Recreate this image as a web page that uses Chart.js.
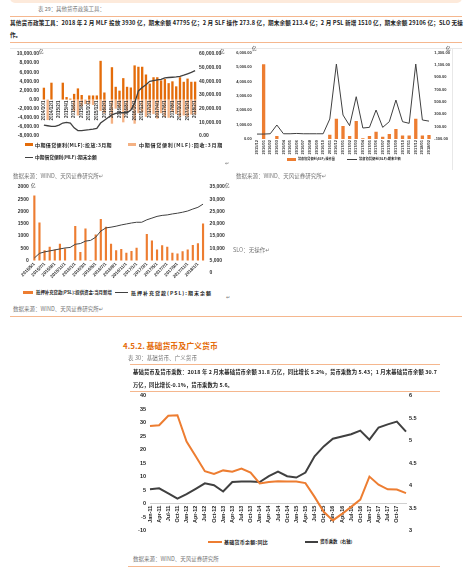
<!DOCTYPE html>
<html>
<head>
<meta charset="utf-8">
<script src="https://cdn.jsdelivr.net/npm/chart.js@4.4.1/dist/chart.umd.min.js"></script>
<style>
html, body { margin: 0; padding: 0; }
body { width: 474px; height: 571px; position: relative; overflow: hidden; background: #fff;
       font-family: "Noto Sans CJK SC", "DejaVu Sans", sans-serif; color: #222; }
.t { position: absolute; white-space: nowrap; line-height: 1; }
.ln { position: absolute; height: 1px; background: #f5b78e; }
.sw { position: absolute; }
.g { color: #777; }
.b { font-weight: bold; }
canvas { position: absolute; }
</style>
</head>
<body>

<div class="sw" style="left:10px;top:-5px;width:452px;height:8px;background:#fdeadb;border-radius:0 0 5px 5px"></div>
<div class="t g" data-w="67" style="left:38px;top:7px;font-size:5.5px">表 29：其他货币政策工具：</div>
<div class="ln" style="left:10px;top:16px;width:452px"></div>
<div class="t b" data-w="453" style="left:10px;top:21px;font-size:5.6px">其他货币政策工具：2018 年 2 月 MLF 投放 3930 亿，期末余额 47795 亿；2 月 SLF 操作 273.8 亿，期末余额 213.4 亿；2 月 PSL 新增 1510 亿，期末余额 29106 亿；SLO 无操</div>
<div class="t b" style="left:10px;top:33px;font-size:5.6px">作。</div>
<div class="ln" style="left:10px;top:42px;width:452px"></div>
<div class="sw" style="left:10px;top:48px;width:452px;height:1px;background:#e8e8e8"></div>
<div class="sw" style="left:452px;top:48px;width:1px;height:122px;background:#e8e8e8"></div>

<canvas id="mlf" width="235" height="97" style="left:0;top:45px"></canvas>
<canvas id="slf" width="228" height="116" style="left:230px;top:46px"></canvas>
<canvas id="psl" width="235" height="100" style="left:0;top:180px"></canvas>
<canvas id="base" width="310" height="150" style="left:130px;top:388px"></canvas>

<!-- MLF -->
<div class="t" style="left:39px;top:49px;font-size:4.5px">亿</div>
<div class="t" style="left:220px;top:49px;font-size:4.5px">亿</div>
<div class="sw" style="left:25px;top:142.5px;width:8px;height:3px;background:#e46c0a"></div>
<div class="t b" data-w="77" style="left:35px;top:141.5px;font-size:5px">中期借贷便利(MLF):投放:3月期</div>
<div class="sw" style="left:128px;top:142.5px;width:8px;height:3px;background:#f4b183"></div>
<div class="t b" data-w="84" style="left:139px;top:141.5px;font-size:5px">中期借贷便利(MLF):回收:3月期</div>
<div class="sw" style="left:25px;top:156.5px;width:8px;height:1.5px;background:#404040"></div>
<div class="t b" data-w="62" style="left:35px;top:155px;font-size:5px">中期借贷便利(MLF):期末余额</div>
<div class="t g" style="left:225px;top:160px;font-size:5px">↵</div>
<div class="t g" style="left:13px;top:173.5px;font-size:5.5px">数据来源：WIND、天风证券研究所↵</div>

<!-- SLF -->
<div class="t" style="left:252px;top:46px;font-size:4.5px">亿</div>
<div class="t" style="left:446px;top:46px;font-size:4.5px">亿</div>
<div class="sw" style="left:287px;top:157.5px;width:9px;height:3px;background:#ed7d31"></div>
<div class="t b" data-w="37" style="left:298px;top:157px;font-size:4px">常备借贷便利(SLF):操作量</div>
<div class="sw" style="left:347px;top:158.5px;width:10px;height:1px;background:#404040"></div>
<div class="t b" data-w="42" style="left:359px;top:157px;font-size:4px">常备借贷便利(SLF):期末余额</div>
<div class="t g" style="left:236px;top:173.5px;font-size:5.5px">数据来源：WIND、天风证券研究所↵</div>

<!-- PSL -->
<div class="t" style="left:31px;top:182.5px;font-size:4.5px">亿</div>
<div class="t" style="left:225px;top:182.5px;font-size:4.5px">亿</div>
<div class="sw" style="left:23px;top:291px;width:10px;height:3px;background:#ed7d31"></div>
<div class="t b" data-w="76" style="left:36px;top:290px;font-size:5px">抵押补充贷款(PSL):提供资金:当月新增</div>
<div class="sw" style="left:115px;top:292px;width:13px;height:1.2px;background:#404040"></div>
<div class="t b" data-w="81" style="left:131px;top:290px;font-size:5px">抵押补充贷款(PSL):期末余额</div>
<div class="t g" style="left:226px;top:294px;font-size:5px">↵</div>
<div class="t g" style="left:13px;top:306.5px;font-size:5.5px">数据来源：WIND、天风证券研究所↵</div>
<div class="ln" style="left:10px;top:315.5px;width:452px"></div>

<div class="t g" style="left:233px;top:247.5px;font-size:5.5px">SLO：无操作↵</div>

<!-- base money -->
<div class="t b" data-w="95" style="left:123px;top:341.5px;font-size:8px;color:#e46c0a">4.5.2. 基础货币及广义货币</div>
<div class="t g" data-w="69" style="left:128px;top:356px;font-size:5.5px">表 30：基础货币、广义货币</div>
<div class="ln" style="left:130px;top:364px;width:310px"></div>
<div class="t b" data-w="304" style="left:133px;top:370px;font-size:5.3px">基础货币及货币乘数：2018 年 2 月末基础货币余额 31.8 万亿，同比增长 5.2%，货币乘数为 5.43；1 月末基础货币余额 30.7</div>
<div class="t b" data-w="100" style="left:133px;top:382.5px;font-size:5.3px">万亿，同比增长-0.1%，货币乘数为 5.6。</div>
<div class="ln" style="left:130px;top:391px;width:310px"></div>
<div class="sw" style="left:208px;top:540.5px;width:14px;height:2px;background:#ed7d31"></div>
<div class="t b" data-w="44" style="left:224px;top:539px;font-size:5px">基础货币余额:同比</div>
<div class="sw" style="left:305px;top:540.5px;width:13px;height:2px;background:#404040"></div>
<div class="t b" data-w="35" style="left:320px;top:539px;font-size:5px">货币乘数（右轴）</div>
<div class="t g" style="left:133px;top:556.5px;font-size:5.5px">数据来源：WIND、天风证券研究所</div>
<div class="ln" style="left:128px;top:566px;width:312px"></div>

<script>
// MLF
var mlfMonths = ['2014/10/1','2014/11/1','2014/12/1','2015/1/1','2015/2/1','2015/3/1','2015/4/1','2015/5/1','2015/6/1','2015/7/1',
    '2015/8/1','2015/9/1','2015/10/1','2015/11/1','2015/12/1','2016/1/1','2016/2/1','2016/3/1','2016/4/1','2016/5/1',
    '2016/6/1','2016/7/1','2016/8/1','2016/9/1','2016/10/1','2016/11/1','2016/12/1','2017/1/1','2017/2/1','2017/3/1',
    '2017/4/1','2017/5/1','2017/6/1','2017/7/1','2017/8/1','2017/9/1','2017/10/1','2017/11/1','2017/12/1','2018/1/1','2018/2/1'];
var mlfInject = [2600,0,3700,0,0,3700,550,200,1250,2450,1000,0,900,900,900,8500,1550,0,7100,2800,
    1950,4700,2800,2650,7500,7200,7200,5500,3500,4900,4900,4200,4500,3600,4000,2900,4900,3900,4600,3900,3930];
var mlfReturn = [0,-4500,0,0,0,0,0,0,-2500,-3500,-1500,-1000,-1000,-1200,0,-2500,-3000,0,-5300,-2000,
    -1800,-5000,-2500,-2200,-5300,-3000,-2800,-3800,-3000,-3200,-4200,-3000,-3800,-4000,-2800,-3200,-3800,-3500,-3800,-3300,-3300];
var mlfBalance = [8000,7500,7000,7000,8000,9500,10000,9500,6000,4000,4000,4300,4600,5000,5500,9500,11500,13500,15500,16500,
    17000,17000,17000,19000,24000,33000,35500,37500,40000,40500,41000,41500,42500,42800,43000,43200,43700,44500,45500,46500,47800];

// SLF
var slfMonths = ['2015/12','2016/01','2016/02','2016/03','2016/04','2016/05','2016/06','2016/07','2016/08','2016/09',
    '2016/10','2016/11','2016/12','2017/01','2017/02','2017/03','2017/04','2017/05','2017/06','2017/07',
    '2017/08','2017/09','2017/10','2017/11','2017/12','2018/01','2018/02'];
var slfOps = [0,5200,0,200,0,0,0,0,0,0,0,300,1400,900,200,1250,50,200,500,150,350,700,250,250,1400,250,274];
var slfBalance = [-20,-20,-15,127,-15,-15,-10,-15,-15,-15,-15,224,1116,289,116,586,78,89,370,89,181,532,181,154,1116,208,190];

// PSL
var pslMonths = ['2015/5/1','2015/6/1','2015/7/1','2015/8/1','2015/9/1','2015/10/1','2015/11/1','2015/12/1','2016/1/1','2016/2/1',
    '2016/3/1','2016/4/1','2016/5/1','2016/6/1','2016/7/1','2016/8/1','2016/9/1','2016/10/1','2016/11/1','2016/12/1',
    '2017/1/1','2017/2/1','2017/3/1','2017/4/1','2017/5/1','2017/6/1','2017/7/1','2017/8/1','2017/9/1','2017/10/1',
    '2017/11/1','2017/12/1','2018/1/1','2018/2/1'];
var pslNew = [2650,1550,420,560,450,680,490,0,1410,350,1310,20,1060,1690,1380,680,420,465,310,390,
    520,0,1080,810,450,620,560,310,280,380,450,630,700,1510];
var pslBalance = [6000,7900,8500,8900,9300,9700,10100,10300,11600,11900,12900,13200,14500,17000,18300,18600,19000,19500,19900,20300,
    20600,20600,21600,22300,23000,23400,23600,24000,24300,24700,25200,26000,26700,28000];

// base money
var baseQuarters = ['Jan-11','Apr-11','Jul-11','Oct-11','Jan-12','Apr-12','Jul-12','Oct-12','Jan-13','Apr-13',
    'Jul-13','Oct-13','Jan-14','Apr-14','Jul-14','Oct-14','Jan-15','Apr-15','Jul-15','Oct-15',
    'Jan-16','Apr-16','Jul-16','Oct-16','Jan-17','Apr-17','Jul-17','Oct-17','Jan-18'];
var baseYoY = [28.7,29.0,32.5,32.7,23.0,17.5,12.0,11.0,12.3,11.8,13.0,11.5,7.5,8.0,8.3,8.2,8.2,7.6,2.5,-3.0,
    -6.2,-3.8,-1.2,1.5,10.0,7.0,5.3,5.2,3.9];
var multiplier = [3.92,3.94,3.83,3.71,3.81,3.93,4.05,4.01,3.87,4.08,4.09,4.09,4.08,4.21,4.31,4.21,4.18,4.29,4.65,4.87,
    5.04,5.09,5.14,5.22,5.02,5.29,5.36,5.42,5.2];

// shrink the font when the text is too wide, spread it when too narrow
document.querySelectorAll('[data-w]').forEach(function (el) {
    var w = +el.dataset.w;
    var cur = el.getBoundingClientRect().width;
    if (cur > w) {
        el.style.fontSize = (parseFloat(el.style.fontSize) * w / cur) + 'px';
    } else {
        el.style.letterSpacing = ((w - cur) / el.textContent.length) + 'px';
    }
});

var tickFont = { family: 'Liberation Sans', size: 5, weight: 'bold' };
var noGrid = { display: false, drawTicks: false };
var noBorder = { display: false };
function fmt2(v) { return Number(v).toLocaleString('en-US', { minimumFractionDigits: 2, maximumFractionDigits: 2 }); }
function width(w) { return function (s) { s.width = w; }; }
var common = { responsive: false, animation: false, events: [],
    plugins: { legend: { display: false }, tooltip: { enabled: false } } };

new Chart(document.getElementById('mlf'), {
    type: 'bar',
    data: {
        labels: mlfMonths,
        datasets: [
            { data: mlfInject, backgroundColor: '#e46c0a', barPercentage: 0.62, categoryPercentage: 1, order: 1 },
            { data: mlfReturn, backgroundColor: '#f4b183', barPercentage: 0.62, categoryPercentage: 1, order: 1 },
            { type: 'line', data: mlfBalance, yAxisID: 'y1', borderColor: '#404040', borderWidth: 1.3, pointRadius: 0, order: 0 }
        ]
    },
    options: Object.assign({}, common, {
        layout: { padding: { top: 9, bottom: 2.7, left: 0, right: 0 } },
        scales: {
            x: { stacked: true, position: { y: 0 }, grid: noGrid, border: noBorder,
                 ticks: { z: 1, autoSkip: false, minRotation: 90, maxRotation: 90, padding: 1, color: '#333',
                          font: { family: 'Liberation Sans', size: 4.5, weight: 'bold' },
                          callback: function (v, i) { return i % 2 === 0 ? mlfMonths[i] : ''; } } },
            y: { stacked: true, min: -8000, max: 10000, grid: noGrid, border: noBorder, afterFit: width(42),
                 ticks: { stepSize: 2000, padding: 3, color: '#333', font: tickFont, callback: fmt2 } },
            y1: { position: 'right', min: 0, max: 60000, grid: noGrid, border: noBorder, afterFit: width(38),
                  ticks: { stepSize: 10000, padding: 2, color: '#333', font: tickFont, callback: fmt2 } }
        }
    })
});

new Chart(document.getElementById('slf'), {
    type: 'bar',
    data: {
        labels: slfMonths,
        datasets: [
            { data: slfOps, backgroundColor: '#ed7d31', barPercentage: 0.5, categoryPercentage: 1, order: 1 },
            { type: 'line', data: slfBalance, yAxisID: 'y1', borderColor: '#404040', borderWidth: 1, pointRadius: 0, order: 0 }
        ]
    },
    options: Object.assign({}, common, {
        layout: { padding: { top: 6.7, bottom: 23, left: 0, right: 0 } },
        scales: {
            x: { position: { y: 0 }, grid: noGrid, border: noBorder,
                 ticks: { autoSkip: false, minRotation: 90, maxRotation: 90, padding: 1, color: '#333',
                          font: { family: 'Liberation Sans', size: 4, weight: 'bold' } } },
            y: { min: 0, max: 6000, grid: noGrid, border: noBorder, afterFit: width(23.7),
                 ticks: { stepSize: 1000, padding: 2, color: '#333', font: { family: 'Liberation Sans', size: 4, weight: 'bold' }, callback: fmt2 } },
            y1: { position: 'right', min: -100, max: 1300, grid: noGrid, border: noBorder, afterFit: width(25.7),
                  ticks: { stepSize: 200, padding: 2, color: '#333', font: { family: 'Liberation Sans', size: 4, weight: 'bold' }, callback: fmt2 } }
        }
    })
});

new Chart(document.getElementById('psl'), {
    type: 'bar',
    data: {
        labels: pslMonths,
        datasets: [
            { data: pslNew, backgroundColor: '#ed7d31', barPercentage: 0.42, categoryPercentage: 1, order: 1 },
            { type: 'line', data: pslBalance, yAxisID: 'y1', borderColor: '#404040', borderWidth: 1, pointRadius: 0, order: 0 }
        ]
    },
    options: Object.assign({}, common, {
        layout: { padding: { top: 7, bottom: 7.3, left: 0, right: 0 } },
        scales: {
            x: { position: { y: 0 }, grid: noGrid, border: noBorder,
                 ticks: { z: 1, autoSkip: false, minRotation: 45, maxRotation: 45, padding: 1, color: '#333',
                          font: { family: 'Liberation Sans', size: 4.5, weight: 'bold' },
                          callback: function (v, i) { return i % 2 === 0 ? pslMonths[i] : ''; } } },
            y: { min: -500, max: 3000, grid: noGrid, border: noBorder, afterFit: width(31.8),
                 ticks: { stepSize: 500, padding: 3, color: '#333', font: tickFont,
                          callback: function (v) { return v < 0 ? '' : v; } } },
            y1: { position: 'right', min: 0, max: 35000, grid: noGrid, border: noBorder, afterFit: width(29.4),
                  ticks: { stepSize: 5000, padding: 4, color: '#333', font: tickFont } }
        }
    })
});

new Chart(document.getElementById('base'), {
    type: 'line',
    data: {
        labels: baseQuarters,
        datasets: [
            { data: baseYoY, borderColor: '#ed7d31', borderWidth: 2, pointRadius: 0 },
            { data: multiplier, yAxisID: 'y1', borderColor: '#404040', borderWidth: 2, pointRadius: 0 }
        ]
    },
    options: Object.assign({}, common, {
        layout: { padding: { top: 7.5, bottom: 6.3, left: 0, right: 0 } },
        scales: {
            x: { position: { y: 0 }, grid: noGrid, border: { display: true, color: '#d0d0d0', width: 1 },
                 ticks: { autoSkip: false, minRotation: 90, maxRotation: 90, padding: 2, color: '#222',
                          font: { family: 'Liberation Sans', size: 5.5, weight: 'bold' },
                          callback: function (v, i) { return i < baseQuarters.length - 1 ? baseQuarters[i] : ''; } } },
            y: { min: -10, max: 40, grid: noGrid, border: noBorder, afterFit: width(20),
                 ticks: { stepSize: 5, padding: 4, color: '#222', font: { family: 'Liberation Sans', size: 5.5, weight: 'bold' } } },
            y1: { position: 'right', min: 3, max: 6, grid: noGrid, border: noBorder, afterFit: width(34),
                  ticks: { stepSize: 0.5, padding: 3, color: '#222', font: { family: 'Liberation Sans', size: 5.5, weight: 'bold' },
                           callback: function (v) { return String(+v.toFixed(1)); } } }
        }
    })
});
</script>
</body>
</html>
